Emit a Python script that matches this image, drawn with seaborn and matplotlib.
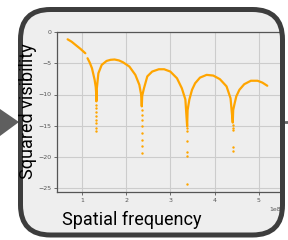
import matplotlib
matplotlib.use("Agg")
import matplotlib.pyplot as plt
from matplotlib.patches import FancyBboxPatch, Polygon
import seaborn as sns
import pandas as pd

# curve (x in units of 1e8, y squared visibility)
seg_a_x = [0.68, 0.77, 0.86, 0.97, 1.08]
seg_a_y = [-1.17, -1.55, -2.07, -2.7, -3.4]

seg_b_x = [1.13, 1.18, 1.23, 1.29, 1.315, 1.325, 1.33,
           1.34, 1.375, 1.45, 1.56, 1.65, 1.74, 1.84, 1.93, 2.075, 2.21, 2.30, 2.34, 2.355,
           2.365, 2.405, 2.48, 2.59, 2.74, 2.86, 3.0, 3.15, 3.26, 3.34, 3.38,
           3.39, 3.43, 3.49, 3.56, 3.67, 3.82, 3.97, 4.12, 4.27, 4.36, 4.41,
           4.42, 4.45, 4.49, 4.56, 4.67, 4.82, 4.97, 5.08, 5.19]
seg_b_y = [-4.2, -4.9, -5.8, -7.65, -8.8, -9.8, -11.1,
           -9.0, -6.6, -5.26, -4.63, -4.45, -4.4, -4.55, -4.84, -5.53, -6.86, -8.45, -10.0, -11.9,
           -10.2, -9.0, -7.1, -6.33, -5.96, -5.96, -6.33, -7.4, -9.0, -10.8, -15.1,
           -12.5, -10.8, -9.25, -8.2, -7.3, -6.86, -6.97, -7.55, -8.7, -10.6, -14.5,
           -12.5, -11.5, -10.3, -9.25, -8.35, -7.8, -7.8, -8.1, -8.6]

# scattered points at the bottom of the nulls
dots_x = [1.325] * 8 + [2.355] * 8 + [3.38] * 6 + [4.41] * 5
dots_y = [-11.6, -12.2, -12.8, -13.4, -14.0, -14.6, -15.3, -15.9,
          -12.4, -13.2, -14.0, -15.0, -16.2, -17.2, -18.2, -19.35,
          -15.4, -15.9, -17.5, -19.25, -19.9, -24.3,
          -14.8, -15.3, -15.6, -18.4, -19.1]

y_ticks = [0, -5, -10, -15, -20, -25]
x_ticks = [1, 2, 3, 4, 5]

curve = pd.DataFrame({
    "freq": [v * 1e8 for v in seg_a_x + seg_b_x],
    "vis": seg_a_y + seg_b_y,
    "seg": ["a"] * len(seg_a_x) + ["b"] * len(seg_b_x),
})
dots = pd.DataFrame({"freq": [v * 1e8 for v in dots_x], "vis": dots_y})

sns.set_style("whitegrid")
plt.rcParams["font.family"] = ["DejaVu Sans"]

W, H = 288, 240
fig = plt.figure(figsize=(W / 100, H / 100), dpi=100)
fig.patch.set_facecolor("white")

# background: rounded box + arrow
bg = fig.add_axes([0, 0, 1, 1], zorder=0)
bg.set_xlim(0, W)
bg.set_ylim(H, 0)
bg.axis("off")
bg.add_patch(FancyBboxPatch((20.5, 9.5), 262, 225.5,
                            boxstyle="round,pad=0,rounding_size=30",
                            facecolor="#eeeeee", edgecolor="none"))
bg.add_patch(Polygon([(0, 109), (19, 122), (0, 136)], closed=True,
                     facecolor="#5f5f5f", edgecolor="none"))
bg.plot([285, 288], [122, 122], color="#666666", lw=2)

# the small plot
ax = fig.add_axes([57 / W, 1 - 192 / H, (281 - 57) / W, 160 / H], zorder=1)
ax.set_facecolor("#eeeeee")
sns.lineplot(data=curve, x="freq", y="vis", units="seg", estimator=None,
             sort=False, color="#ffa500", lw=1.6, ax=ax)
sns.scatterplot(data=dots, x="freq", y="vis", color="#ffa500", s=3,
                linewidth=0, ax=ax)
ax.set_xlim(0.44e8, 5.5e8)
ax.set_ylim(-25.6, 0)
ax.set_xticks([v * 1e8 for v in x_ticks])
ax.set_yticks(y_ticks)
ax.set_xlabel("")
ax.set_ylabel("")
ax.grid(True, color="#cccccc", lw=0.8)
ax.tick_params(labelsize=4.5, colors="#555555", length=2, width=0.6,
               pad=2, left=True, bottom=True)
ax.xaxis.get_offset_text().set_fontsize(4.5)
ax.xaxis.get_offset_text().set_color("#555555")
for side in ["left", "bottom", "top"]:
    ax.spines[side].set_color("#555555")
    ax.spines[side].set_linewidth(0.9)
ax.spines["right"].set_visible(False)

# border drawn over everything
fg = fig.add_axes([0, 0, 1, 1], zorder=2)
fg.set_xlim(0, W)
fg.set_ylim(H, 0)
fg.axis("off")
fg.patch.set_alpha(0)
fg.add_patch(FancyBboxPatch((20.5, 9.5), 262, 225.5,
                            boxstyle="round,pad=0,rounding_size=30",
                            facecolor="none", edgecolor="#3d3d3d", lw=3.6))

fig.text(28 / W, 1 - 111 / H, "Squared visibility", rotation=90,
         ha="center", va="center", fontsize=13, family=["Roboto", "DejaVu Sans"],
         color="black", zorder=3)
fig.text(132 / W, 1 - 225 / H, "Spatial frequency", ha="center",
         va="baseline", fontsize=13, family=["Roboto", "DejaVu Sans"],
         color="black", zorder=3)

fig.savefig("out.png", dpi=100)
